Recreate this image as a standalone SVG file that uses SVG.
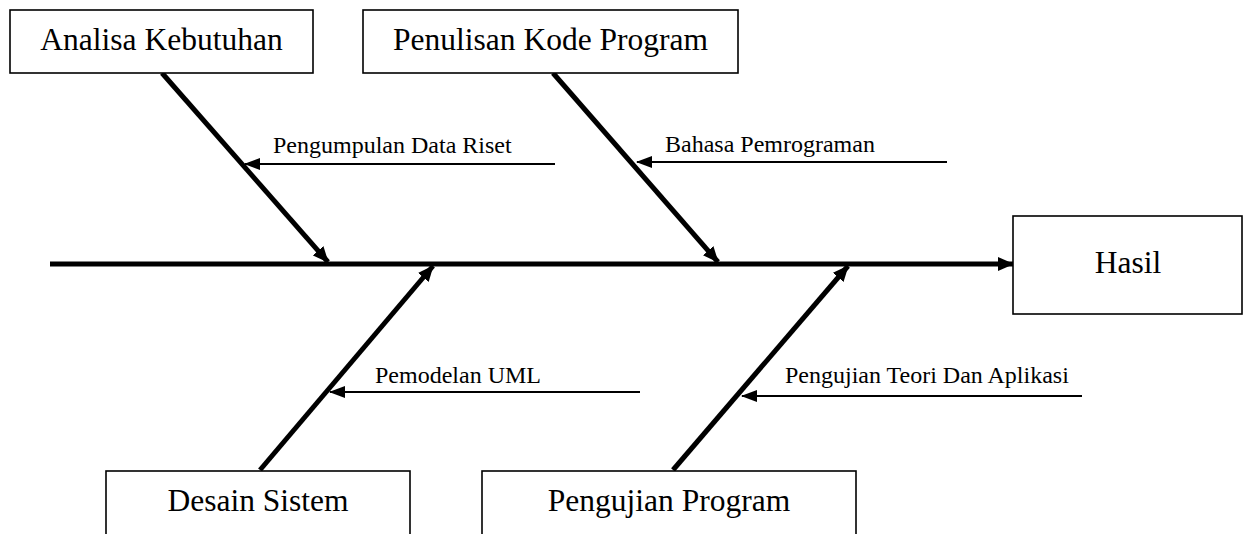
<svg xmlns="http://www.w3.org/2000/svg" width="1249" height="534" viewBox="0 0 1249 534">
  <style>
    .box { fill: #ffffff; stroke: #000000; stroke-width: 1.6; }
    .title { font-family: "Liberation Serif", "Times New Roman", serif; font-size: 31.5px; fill: #000000; text-anchor: middle; }
    .label { font-family: "Liberation Serif", "Times New Roman", serif; font-size: 24px; fill: #000000; }
    .spine { stroke: #000000; stroke-width: 5; fill: none; }
    .bone { stroke: #000000; stroke-width: 5; fill: none; }
    .sub { stroke: #000000; stroke-width: 2; fill: none; }
  </style>
  <defs>
    <marker id="bigHead" markerUnits="userSpaceOnUse" viewBox="0 0 16 14" refX="15" refY="7" markerWidth="16" markerHeight="14" orient="auto">
      <path d="M0,0 L16,7 L0,14 Z" fill="#000000"/>
    </marker>
    <marker id="smallHead" markerUnits="userSpaceOnUse" viewBox="0 0 16 12" refX="15" refY="6" markerWidth="16" markerHeight="12" orient="auto">
      <path d="M0,0 L16,6 L0,12 Z" fill="#000000"/>
    </marker>
  </defs>
  <rect width="1249" height="534" fill="#ffffff"/>

  <!-- connectors: spine, main bones and sub-causes -->
  <g id="connectors">
    <line class="spine" x1="50" y1="264" x2="1013" y2="264" marker-end="url(#bigHead)"/>
    <line class="bone" x1="162" y1="73" x2="328" y2="262" marker-end="url(#bigHead)"/>
    <line class="bone" x1="553" y1="73" x2="718" y2="262" marker-end="url(#bigHead)"/>
    <line class="bone" x1="260" y1="470" x2="433" y2="266" marker-end="url(#bigHead)"/>
    <line class="bone" x1="673" y1="470" x2="848" y2="266" marker-end="url(#bigHead)"/>
    <line class="sub" x1="555" y1="164" x2="245" y2="164" marker-end="url(#smallHead)"/>
    <line class="sub" x1="947" y1="162" x2="637" y2="162" marker-end="url(#smallHead)"/>
    <line class="sub" x1="640" y1="392" x2="330" y2="392" marker-end="url(#smallHead)"/>
    <line class="sub" x1="1082" y1="396" x2="742" y2="396" marker-end="url(#smallHead)"/>
    <text class="label" x="273" y="153">Pengumpulan Data Riset</text>
    <text class="label" x="665" y="152">Bahasa Pemrograman</text>
    <text class="label" x="375" y="383">Pemodelan UML</text>
    <text class="label" x="785" y="383">Pengujian Teori Dan Aplikasi</text>
  </g>

  <g id="analisa-kebutuhan">
    <rect class="box" x="10" y="10" width="303" height="63"/>
    <text class="title" x="161.5" y="50">Analisa Kebutuhan</text>
  </g>

  <g id="penulisan-kode">
    <rect class="box" x="363" y="10" width="375" height="63"/>
    <text class="title" x="550.5" y="50">Penulisan Kode Program</text>
  </g>

  <g id="hasil">
    <rect class="box" x="1013" y="216" width="229" height="98"/>
    <text class="title" x="1128" y="273">Hasil</text>
  </g>

  <g id="desain-sistem">
    <rect class="box" x="106" y="471" width="304" height="90"/>
    <text class="title" x="258" y="511">Desain Sistem</text>
  </g>

  <g id="pengujian-program">
    <rect class="box" x="482" y="471" width="374" height="90"/>
    <text class="title" x="669" y="511">Pengujian Program</text>
  </g>
</svg>
